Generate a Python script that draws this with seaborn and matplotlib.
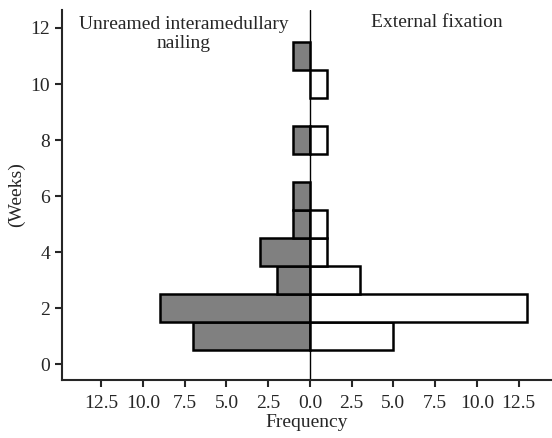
import numpy as np
import pandas as pd
import seaborn as sns
import matplotlib.pyplot as plt

sns.set_style("ticks")
plt.rcParams['font.family'] = ['Liberation Serif', 'DejaVu Serif']

# healing time (weeks) and number of patients
nail_weeks = [1, 2, 3, 4, 5, 6, 8, 11]
nail_counts = [7, 9, 2, 3, 1, 1, 1, 1]
ext_weeks = [1, 2, 3, 4, 5, 8, 10]
ext_counts = [5, 13, 3, 1, 1, 1, 1]
xticks = [-12.5, -10, -7.5, -5, -2.5, 0, 2.5, 5, 7.5, 10, 12.5]

nail = pd.DataFrame({"weeks": nail_weeks, "freq": -np.array(nail_counts)})
ext = pd.DataFrame({"weeks": ext_weeks, "freq": ext_counts})

fig, ax = plt.subplots(figsize=(5.52, 4.38), dpi=100)
sns.barplot(data=nail, x="freq", y="weeks", orient="h", native_scale=True,
            width=1, color="#808080", edgecolor="black", linewidth=1.8,
            saturation=1, ax=ax)
sns.barplot(data=ext, x="freq", y="weeks", orient="h", native_scale=True,
            width=1, color="white", edgecolor="black", linewidth=1.8,
            saturation=1, ax=ax)
ax.axvline(0, color="black", lw=1, zorder=0)

ax.set_xlim(-14.85, 14.5)
ax.set_ylim(-0.57, 12.64)
ax.set_yticks(range(0, 13, 2))
ax.set_xticks(xticks)
ax.set_xticklabels([f"{abs(t):.1f}" for t in xticks])
ax.tick_params(labelsize=14, width=1.5, length=5)
ax.tick_params(axis="x", pad=6)
ax.set_xlabel("Frequency", fontsize=14, labelpad=1)
ax.set_ylabel("(Weeks)", fontsize=14)
for s in ["top", "right"]:
    ax.spines[s].set_visible(False)
for s in ["left", "bottom"]:
    ax.spines[s].set_linewidth(1.5)

ax.text(-7.55, 11.8, "Unreamed interamedullary\nnailing", ha="center",
        va="center", fontsize=14, linespacing=1.15)
ax.text(7.6, 12.18, "External fixation", ha="center", va="center", fontsize=14)

plt.subplots_adjust(left=0.1123, right=1.0, bottom=0.1324, top=0.977)
fig.savefig("out.png")
